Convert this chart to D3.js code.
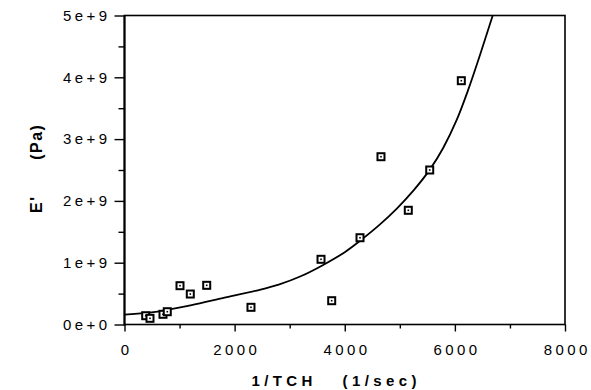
<!DOCTYPE html>
<html>
<head>
<meta charset="utf-8">
<script src="https://cdn.jsdelivr.net/npm/d3@7"></script>
<style>
  html, body { margin: 0; padding: 0; background: #fff; }
  svg { display: block; }
  text { font-family: "Liberation Sans", Arial, Helvetica, sans-serif; fill: #000; }
</style>
</head>
<body>
<svg id="chart" width="591" height="390"></svg>
<script>
// ---- data ----
const xTickValues = [0, 2000, 4000, 6000, 8000];
const xTickLabels = ["0", "2000", "4000", "6000", "8000"];
const xMinorTicks = [1000, 3000, 5000, 7000];
const yTickValues = [0, 1e9, 2e9, 3e9, 4e9, 5e9];
const yTickLabels = ["0e+0", "1e+9", "2e+9", "3e+9", "4e+9", "5e+9"];
const yMinorTicks = [0.5e9, 1.5e9, 2.5e9, 3.5e9, 4.5e9];

// measured points: 1/TCH (1/sec) and E' (Pa)
const pointX = [385, 463, 699, 777, 1008, 1195, 1493, 2297, 3569, 3763, 4277, 4658, 5154, 5543, 6117];
const pointY = [0.142e9, 0.100e9, 0.165e9, 0.207e9, 0.628e9, 0.493e9, 0.634e9, 0.278e9,
                1.055e9, 0.385e9, 1.404e9, 2.715e9, 1.848e9, 2.500e9, 3.945e9];

// fitted curve
const curveX = [0, 600, 1200, 1800, 2400, 2800, 3200, 3600, 4000, 4300, 4640, 4950, 5250, 5548, 5790, 6033, 6243, 6456, 6687];
const curveY = [0.16e9, 0.21e9, 0.31e9, 0.43e9, 0.55e9, 0.645e9, 0.78e9, 0.96e9, 1.17e9, 1.37e9,
                1.62e9, 1.88e9, 2.17e9, 2.51e9, 2.86e9, 3.31e9, 3.80e9, 4.36e9, 5.0e9];

const xTitle = "1/TCH   (1/sec)";
const yTitle = "E'      (Pa)";

// ---- layout ----
const pL = 124.5, pR = 565, pT = 15.5, pB = 324.5;
const svg = d3.select("#chart");

const x = d3.scaleLinear().domain([0, 8000]).range([pL, pR]);
const y = d3.scaleLinear().domain([0, 5e9]).range([pB, pT]);

// clip
svg.append("defs").append("clipPath").attr("id", "clip")
  .append("rect").attr("x", pL).attr("y", pT - 1).attr("width", pR - pL).attr("height", pB - pT + 1);

// frame
svg.append("rect")
  .attr("x", pL).attr("y", pT).attr("width", pR - pL).attr("height", pB - pT)
  .attr("fill", "none").attr("stroke", "#000").attr("stroke-width", 1.6);
svg.append("line")
  .attr("x1", pL).attr("x2", pL).attr("y1", pT).attr("y2", pB + 1)
  .attr("stroke", "#000").attr("stroke-width", 2);

// axes
const xAxis = svg.append("g").attr("transform", `translate(0,${pB})`)
  .call(d3.axisBottom(x).tickValues(xTickValues).tickSize(7).tickPadding(13)
    .tickFormat((d, i) => xTickLabels[i]));
const xMinor = svg.append("g").attr("transform", `translate(0,${pB})`)
  .call(d3.axisBottom(x).tickValues(xMinorTicks).tickSize(4).tickFormat(""));
const yAxis = svg.append("g").attr("transform", `translate(${pL},0)`)
  .call(d3.axisLeft(y).tickValues(yTickValues).tickSize(10).tickPadding(7)
    .tickFormat((d, i) => yTickLabels[i]));
const yMinor = svg.append("g").attr("transform", `translate(${pL},0)`)
  .call(d3.axisLeft(y).tickValues(yMinorTicks).tickSize(6).tickFormat(""));

[xAxis, xMinor, yAxis, yMinor].forEach(g => {
  g.select(".domain").remove();
  g.selectAll(".tick line").attr("stroke", "#000").attr("stroke-width", 1.4);
  g.selectAll(".tick text")
    .attr("fill", "#000")
    .style("font-size", "15px")
    .style("letter-spacing", "3.4px");
});
yAxis.selectAll(".tick text").attr("dx", "3px");
xAxis.selectAll(".tick text").attr("dx", "1.7px");

// curve
const pts = curveX.map((v, i) => [v, curveY[i]]);
svg.append("path")
  .datum(pts)
  .attr("clip-path", "url(#clip)")
  .attr("fill", "none").attr("stroke", "#000").attr("stroke-width", 1.8)
  .attr("d", d3.line().x(d => x(d[0])).y(d => y(d[1])).curve(d3.curveCatmullRom.alpha(0.5)));

// points
const data = pointX.map((v, i) => ({ x: v, y: pointY[i] }));
const g = svg.append("g");
g.selectAll("rect.pt").data(data).enter().append("rect").attr("class", "pt")
  .attr("x", d => x(d.x) - 3.5).attr("y", d => y(d.y) - 3.5)
  .attr("width", 7).attr("height", 7)
  .attr("fill", "#fff").attr("stroke", "#000").attr("stroke-width", 2);
g.selectAll("rect.dot").data(data).enter().append("rect").attr("class", "dot")
  .attr("x", d => x(d.x) - 0.8).attr("y", d => y(d.y) - 0.8)
  .attr("width", 1.6).attr("height", 1.6).attr("fill", "#000");

// titles
svg.append("text")
  .attr("x", 251.5).attr("y", 386)
  .attr("text-anchor", "start")
  .style("font-size", "15px").style("font-weight", "bold").style("letter-spacing", "4.4px")
  .style("white-space", "pre")
  .text(xTitle);
svg.append("text")
  .attr("transform", `translate(42,213) rotate(-90)`)
  .attr("text-anchor", "start")
  .style("font-size", "16px").style("font-weight", "bold").style("letter-spacing", "1.5px")
  .style("white-space", "pre")
  .text(yTitle);
</script>
</body>
</html>
